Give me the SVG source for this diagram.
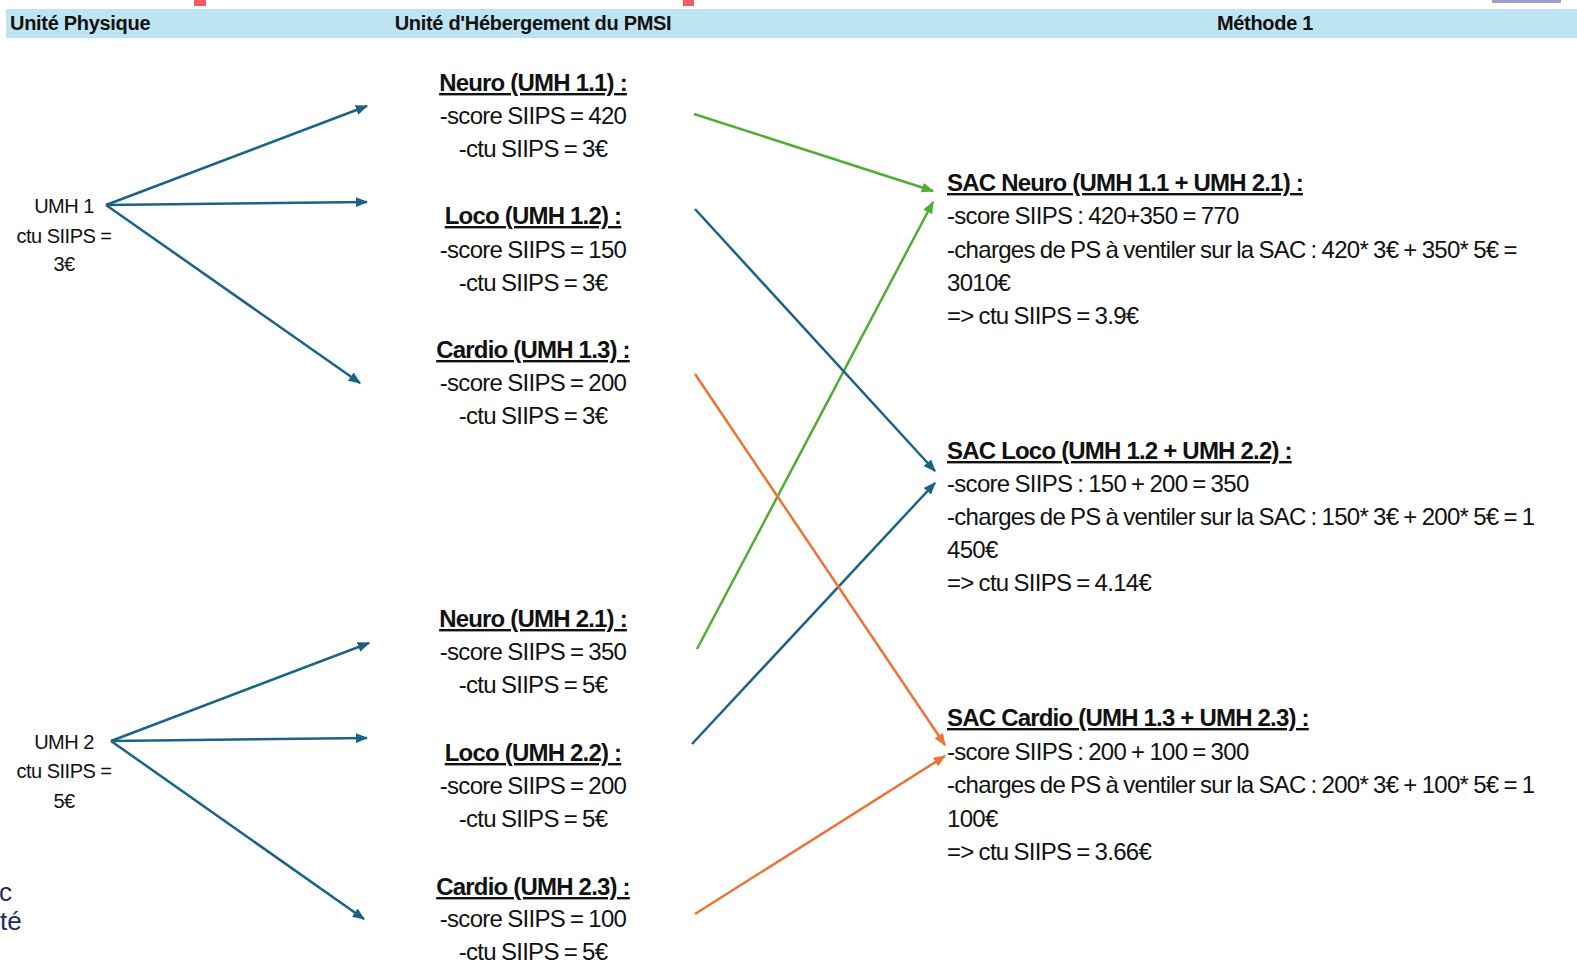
<svg xmlns="http://www.w3.org/2000/svg" width="1577" height="965" viewBox="0 0 1577 965">
<style>
text{font-family:"Liberation Sans",Arial,sans-serif;fill:#111}
.hd{font-size:20px;font-weight:bold;letter-spacing:-0.3px}
.t{font-size:24px;letter-spacing:-0.7px;word-spacing:-1px}
.tt{font-size:24px;font-weight:bold;letter-spacing:-0.8px;word-spacing:0px;text-decoration:underline}
.l{font-size:20px;letter-spacing:-0.5px;word-spacing:0px}
.m{text-anchor:middle}
.b{stroke:#1b6285;stroke-width:2.5;fill:none;marker-end:url(#ab)}
.g{stroke:#4fae31;stroke-width:2.5;fill:none;marker-end:url(#ag)}
.o{stroke:#ec7332;stroke-width:2.5;fill:none;marker-end:url(#ao)}
</style>
<defs>
<marker id="ab" viewBox="0 0 10 8" refX="9" refY="4" markerWidth="5" markerHeight="4" orient="auto" markerUnits="strokeWidth"><path d="M0,0 L10,4 L0,8 Z" fill="#1b6285"/></marker>
<marker id="ag" viewBox="0 0 10 8" refX="9" refY="4" markerWidth="5" markerHeight="4" orient="auto" markerUnits="strokeWidth"><path d="M0,0 L10,4 L0,8 Z" fill="#4fae31"/></marker>
<marker id="ao" viewBox="0 0 10 8" refX="9" refY="4" markerWidth="5" markerHeight="4" orient="auto" markerUnits="strokeWidth"><path d="M0,0 L10,4 L0,8 Z" fill="#ec7332"/></marker>
</defs>
<rect width="1577" height="965" fill="#fff"/>
<g id="decor">
<rect x="194" y="0" width="12" height="6" fill="#f65a64"/>
<rect x="683" y="0" width="11" height="6" fill="#f65a64"/>
<rect x="1492" y="0" width="69" height="3" fill="#9da0cf"/>
<text x="-1" y="901" style="font-size:26px;fill:#1f2a6b">c</text>
<text x="0" y="930" style="font-size:26px;fill:#1f2a6b">té</text>
</g>
<g id="header">
<rect x="6" y="9" width="1571" height="29" fill="#bee3f3"/>
<text class="hd" x="10" y="30">Unité Physique</text>
<text class="hd m" x="533" y="30">Unité d'Hébergement du PMSI</text>
<text class="hd m" x="1265" y="30">Méthode 1</text>
</g>
<g id="umh1">
<text class="l m" x="64" y="213">UMH 1</text>
<text class="l m" x="64" y="243">ctu SIIPS =</text>
<text class="l m" x="64" y="271">3€</text>
</g>
<g id="umh2">
<text class="l m" x="64" y="749">UMH 2</text>
<text class="l m" x="64" y="778">ctu SIIPS =</text>
<text class="l m" x="64" y="808">5€</text>
</g>
<g id="neuro11">
<text class="tt m" x="533" y="91">Neuro (UMH 1.1) :</text>
<text class="t m" x="533" y="124">-score SIIPS = 420</text>
<text class="t m" x="533" y="157">-ctu SIIPS = 3€</text>
</g>
<g id="loco12">
<text class="tt m" x="533" y="224">Loco (UMH 1.2) :</text>
<text class="t m" x="533" y="258">-score SIIPS = 150</text>
<text class="t m" x="533" y="291">-ctu SIIPS = 3€</text>
</g>
<g id="cardio13">
<text class="tt m" x="533" y="358">Cardio (UMH 1.3) :</text>
<text class="t m" x="533" y="391">-score SIIPS = 200</text>
<text class="t m" x="533" y="424">-ctu SIIPS = 3€</text>
</g>
<g id="neuro21">
<text class="tt m" x="533" y="627">Neuro (UMH 2.1) :</text>
<text class="t m" x="533" y="660">-score SIIPS = 350</text>
<text class="t m" x="533" y="693">-ctu SIIPS = 5€</text>
</g>
<g id="loco22">
<text class="tt m" x="533" y="761">Loco (UMH 2.2) :</text>
<text class="t m" x="533" y="794">-score SIIPS = 200</text>
<text class="t m" x="533" y="827">-ctu SIIPS = 5€</text>
</g>
<g id="cardio23">
<text class="tt m" x="533" y="895">Cardio (UMH 2.3) :</text>
<text class="t m" x="533" y="927">-score SIIPS = 100</text>
<text class="t m" x="533" y="960">-ctu SIIPS = 5€</text>
</g>
<g id="sacneuro">
<text class="tt" x="947" y="191">SAC Neuro (UMH 1.1 + UMH 2.1) :</text>
<text class="t" x="947" y="224">-score SIIPS : 420+350 = 770</text>
<text class="t" x="947" y="258">-charges de PS à ventiler sur la SAC : 420* 3€ + 350* 5€ =</text>
<text class="t" x="947" y="291">3010€</text>
<text class="t" x="947" y="324">=&gt; ctu SIIPS = 3.9€</text>
</g>
<g id="sacloco">
<text class="tt" x="947" y="459">SAC Loco (UMH 1.2  + UMH 2.2) :</text>
<text class="t" x="947" y="492">-score SIIPS : 150 + 200 = 350</text>
<text class="t" x="947" y="525">-charges de PS à ventiler sur la SAC : 150* 3€ + 200* 5€ = 1</text>
<text class="t" x="947" y="558">450€</text>
<text class="t" x="947" y="591">=&gt; ctu SIIPS = 4.14€</text>
</g>
<g id="saccardio">
<text class="tt" x="947" y="726">SAC Cardio (UMH 1.3 + UMH 2.3) :</text>
<text class="t" x="947" y="760">-score SIIPS : 200 + 100 = 300</text>
<text class="t" x="947" y="793">-charges de PS à ventiler sur la SAC : 200* 3€ + 100* 5€ = 1</text>
<text class="t" x="947" y="827">100€</text>
<text class="t" x="947" y="860">=&gt; ctu SIIPS = 3.66€</text>
</g>
<g id="connectors">
<line class="b" x1="106" y1="205" x2="367" y2="106"/>
<line class="b" x1="106" y1="205" x2="367" y2="202"/>
<line class="b" x1="106" y1="205" x2="360" y2="383"/>
<line class="b" x1="111" y1="741" x2="369" y2="643"/>
<line class="b" x1="111" y1="741" x2="367" y2="738"/>
<line class="b" x1="111" y1="741" x2="364" y2="919"/>
<line class="g" x1="694" y1="114" x2="933" y2="191"/>
<line class="g" x1="697" y1="649" x2="933" y2="202"/>
<line class="b" x1="695" y1="209" x2="935" y2="471"/>
<line class="b" x1="692" y1="744" x2="935" y2="483"/>
<line class="o" x1="695" y1="374" x2="945" y2="745"/>
<line class="o" x1="695" y1="914" x2="945" y2="756"/>
</g>
</svg>
